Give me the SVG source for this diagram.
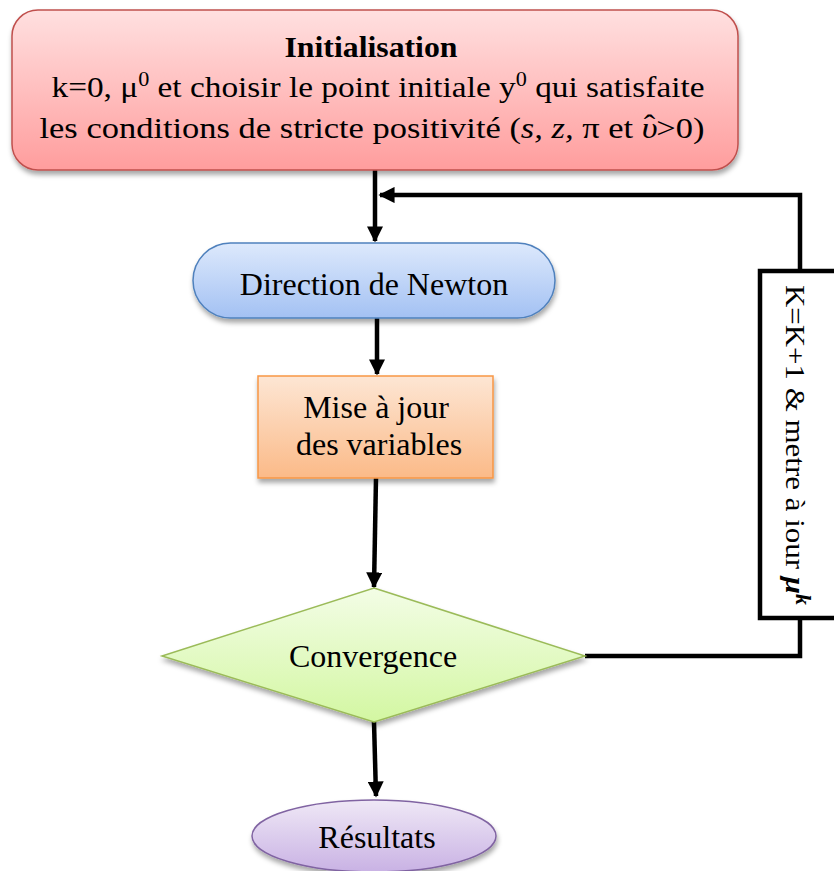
<svg xmlns="http://www.w3.org/2000/svg" width="834" height="871" viewBox="0 0 834 871" font-family="Liberation Serif">
<defs>
<linearGradient id="gr" x1="0" y1="0" x2="0" y2="1"><stop offset="0" stop-color="#ffe0e0"/><stop offset="1" stop-color="#ff9d9d"/></linearGradient>
<linearGradient id="gb" x1="0" y1="0" x2="0" y2="1"><stop offset="0" stop-color="#dde9fc"/><stop offset="1" stop-color="#a3c1f3"/></linearGradient>
<linearGradient id="go" x1="0" y1="0" x2="0" y2="1"><stop offset="0" stop-color="#fde6d4"/><stop offset="1" stop-color="#fbba88"/></linearGradient>
<linearGradient id="gg" x1="0" y1="0" x2="0" y2="1"><stop offset="0" stop-color="#f3fde6"/><stop offset="1" stop-color="#d3f7a2"/></linearGradient>
<linearGradient id="gp" x1="0" y1="0" x2="0" y2="1"><stop offset="0" stop-color="#efe8f6"/><stop offset="1" stop-color="#c9b2e4"/></linearGradient>
<filter id="sh" x="-10%" y="-10%" width="120%" height="130%"><feDropShadow dx="1" dy="4" stdDeviation="2.5" flood-color="#000" flood-opacity="0.35"/></filter>
<marker id="ah" viewBox="0 0 10 10" refX="9" refY="5" markerWidth="3.6" markerHeight="3.6" orient="auto" markerUnits="strokeWidth"><path d="M0,0L10,5L0,10z" fill="#000"/></marker>
</defs>

<g id="connectors" fill="none" stroke="#000" stroke-width="4.5">
<path d="M375,170V241" marker-end="url(#ah)"/>
<path d="M800,272V195H380" marker-end="url(#ah)"/>
<path d="M377,318V374" marker-end="url(#ah)"/>
<path d="M376,478L374,587" marker-end="url(#ah)"/>
<path d="M585,656H800V618"/>
<path d="M374,722L376,796" marker-end="url(#ah)"/>
</g>

<g id="init">
<rect x="12" y="10" width="726" height="160" rx="26" fill="url(#gr)" stroke="#c0504d" stroke-width="1.5" filter="url(#sh)"/>
<text font-family="Liberation Serif" text-anchor="middle" x="371" y="57" font-weight="bold" font-size="29" textLength="173" lengthAdjust="spacingAndGlyphs">Initialisation</text>
<text font-family="Liberation Serif" text-anchor="middle" font-size="30" x="378" y="97" textLength="653" lengthAdjust="spacingAndGlyphs">k=0, μ<tspan dy="-11" font-size="20">0</tspan><tspan dy="11"> et choisir le point initiale y</tspan><tspan dy="-11" font-size="20">0</tspan><tspan dy="11"> qui satisfaite</tspan></text>
<text font-family="Liberation Serif" text-anchor="middle" font-size="30" x="372" y="138" textLength="665" lengthAdjust="spacingAndGlyphs">les conditions de stricte positivité (<tspan font-style="italic">s, z,</tspan> π  et   <tspan font-style="italic">υ</tspan><tspan dx="-12" dy="-3">ˆ</tspan><tspan dx="1" dy="3">&gt;0)</tspan></text>
</g>

<g id="direction">
<rect x="193" y="243" width="362" height="75" rx="37.5" fill="url(#gb)" stroke="#4f81bd" stroke-width="1.5" filter="url(#sh)"/>
<text font-family="Liberation Serif" text-anchor="middle" font-size="32" x="374" y="295">Direction de Newton</text>
</g>

<g id="maj">
<rect x="258" y="376" width="235" height="102" fill="url(#go)" stroke="#f79646" stroke-width="1.5" filter="url(#sh)"/>
<text font-family="Liberation Serif" text-anchor="middle" font-size="32" x="376" y="418">Mise à jour</text>
<text font-family="Liberation Serif" text-anchor="middle" font-size="32" x="379" y="455">des variables</text>
</g>

<g id="convergence">
<polygon points="374,588 585,656 374,722 162,656" fill="url(#gg)" stroke="#9bbb59" stroke-width="1.5" filter="url(#sh)"/>
<text font-family="Liberation Serif" text-anchor="middle" font-size="32" x="373" y="667">Convergence</text>
</g>

<g id="resultats">
<ellipse cx="374" cy="836" rx="122" ry="36" fill="url(#gp)" stroke="#8064a2" stroke-width="1.5" filter="url(#sh)"/>
<text font-family="Liberation Serif" text-anchor="middle" font-size="32" x="377" y="848">Résultats</text>
</g>

<g id="update">
<rect x="760" y="271" width="90" height="347" fill="#fff" stroke="#000" stroke-width="4.5"/>
<text font-family="Liberation Serif" text-anchor="middle" font-size="28" transform="translate(786,445) rotate(90)" x="0" y="0" textLength="320" lengthAdjust="spacingAndGlyphs">K=K+1 &amp; metre à iour <tspan font-weight="bold" font-style="italic">μ</tspan><tspan font-weight="bold" font-style="italic" dy="-10" font-size="20">k</tspan></text>
</g>
</svg>
